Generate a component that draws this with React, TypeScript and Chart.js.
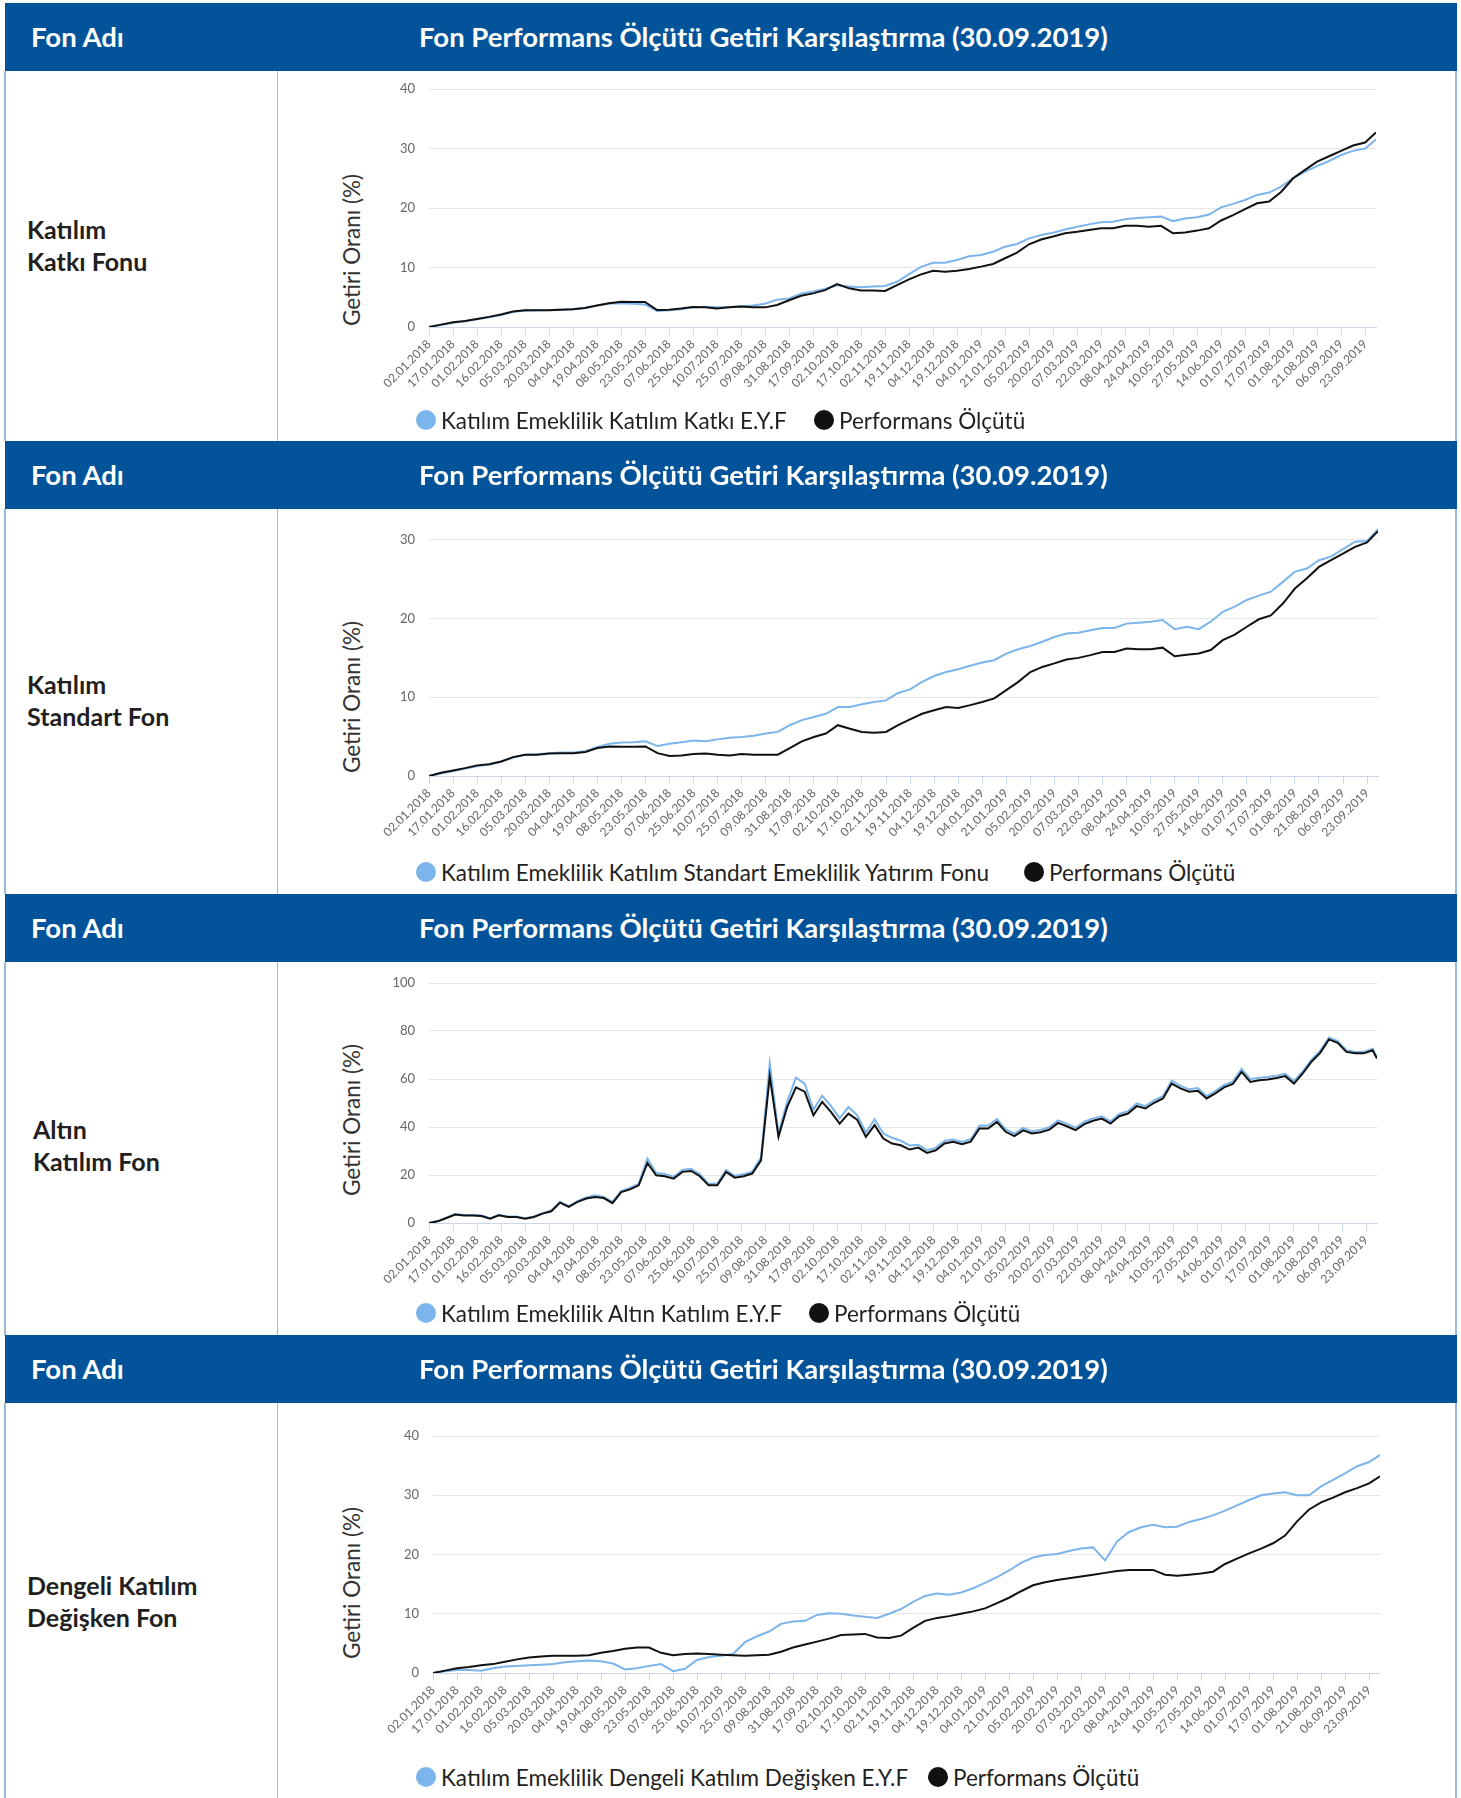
import React, { useEffect, useRef } from 'react';
import { Chart, registerables } from 'chart.js';

Chart.register(...registerables);

// ---------- shared axis data ----------
const tickLabels = [
  '02.01.2018', '17.01.2018', '01.02.2018', '16.02.2018', '05.03.2018', '20.03.2018', '04.04.2018', '19.04.2018',
  '08.05.2018', '23.05.2018', '07.06.2018', '25.06.2018', '10.07.2018', '25.07.2018', '09.08.2018', '31.08.2018',
  '17.09.2018', '02.10.2018', '17.10.2018', '02.11.2018', '19.11.2018', '04.12.2018', '19.12.2018', '04.01.2019',
  '21.01.2019', '05.02.2019', '20.02.2019', '07.03.2019', '22.03.2019', '08.04.2019', '24.04.2019', '10.05.2019',
  '27.05.2019', '14.06.2019', '01.07.2019', '17.07.2019', '01.08.2019', '21.08.2019', '06.09.2019', '23.09.2019',
];
const TICK_STEP = 11; // business days between two tick labels
const LAST_DAY = 434; // 30.09.2019

// sample days (business-day index) used for charts 1, 2, 4 : every half label step + last day
const halfStepDays = Array.from({ length: 79 }, (_, i) => i * 5.5).concat([LAST_DAY]);
// sample days for the gold chart: every 4 business days + last day
const goldDays = Array.from({ length: 109 }, (_, i) => i * 4).concat([LAST_DAY]);

// ---------- chart 1 : Katılım Katkı ----------
const katkiFund = [
  0, 0.35, 0.7, 0.95, 1.3, 1.65, 2.0, 2.55, 2.75, 2.8,
  2.85, 2.95, 3.0, 3.25, 3.6, 3.95, 4.0, 3.9, 3.8, 2.7,
  2.8, 3.0, 3.3, 3.4, 3.3, 3.3, 3.5, 3.6, 3.9, 4.6,
  4.8, 5.6, 5.95, 6.4, 7.0, 6.8, 6.7, 6.8, 6.9, 7.6,
  8.9, 10.1, 10.8, 10.8, 11.25, 11.9, 12.1, 12.65, 13.5, 13.95,
  14.9, 15.45, 15.85, 16.4, 16.85, 17.25, 17.6, 17.7, 18.1, 18.3,
  18.45, 18.55, 17.8, 18.25, 18.45, 18.9, 20.1, 20.7, 21.35, 22.2,
  22.6, 23.6, 25.0, 26.1, 27.05, 27.9, 28.9, 29.6, 30.0,
  31.5,
];
const katkiBench = [
  0, 0.4, 0.8, 1.0, 1.35, 1.7, 2.1, 2.6, 2.8, 2.8,
  2.8, 2.9, 3.0, 3.2, 3.6, 4.0, 4.25, 4.2, 4.2, 2.85,
  2.9, 3.1, 3.35, 3.3, 3.1, 3.3, 3.45, 3.3, 3.3, 3.7,
  4.5, 5.25, 5.65, 6.2, 7.2, 6.5, 6.15, 6.15, 6.05, 7.05,
  8.0, 8.85, 9.45, 9.3, 9.45, 9.75, 10.15, 10.6, 11.55, 12.5,
  13.9, 14.7, 15.2, 15.75, 16.0, 16.3, 16.6, 16.6, 17.0, 17.0,
  16.85, 17.0, 15.75, 15.9, 16.2, 16.6, 17.9, 18.8, 19.8, 20.8,
  21.1, 22.7, 25.0, 26.4, 27.8, 28.7, 29.6, 30.5, 31.0,
  32.7,
];

// ---------- chart 2 : Katılım Standart ----------
const standartFund = [
  0, 0.3, 0.6, 0.95, 1.25, 1.45, 1.8, 2.35, 2.7, 2.75,
  2.9, 3.0, 3.0, 3.15, 3.7, 4.1, 4.25, 4.3, 4.4, 3.8,
  4.1, 4.3, 4.5, 4.4, 4.65, 4.85, 4.95, 5.1, 5.4, 5.6,
  6.45, 7.1, 7.5, 7.9, 8.75, 8.75, 9.1, 9.4, 9.6, 10.55,
  11.0, 11.95, 12.7, 13.2, 13.55, 14.0, 14.4, 14.7, 15.55, 16.1,
  16.5, 17.05, 17.65, 18.1, 18.2, 18.5, 18.8, 18.8, 19.35, 19.45,
  19.6, 19.8, 18.65, 18.95, 18.65, 19.6, 20.85, 21.5, 22.35, 22.9,
  23.4, 24.65, 25.95, 26.35, 27.4, 27.85, 28.8, 29.75, 29.85,
  31.35,
];
const standartBench = [
  0, 0.4, 0.7, 1.0, 1.35, 1.5, 1.85, 2.4, 2.7, 2.7,
  2.85, 2.9, 2.9, 3.05, 3.55, 3.75, 3.7, 3.7, 3.75, 2.9,
  2.55, 2.6, 2.8, 2.85, 2.7, 2.6, 2.8, 2.7, 2.7, 2.7,
  3.55, 4.4, 4.95, 5.4, 6.45, 6.0, 5.6, 5.5, 5.6, 6.45,
  7.2, 7.9, 8.35, 8.75, 8.65, 9.0, 9.4, 9.85, 10.9, 11.95,
  13.2, 13.85, 14.3, 14.8, 15.0, 15.35, 15.75, 15.75, 16.2, 16.1,
  16.1, 16.3, 15.2, 15.4, 15.55, 16.0, 17.25, 17.95, 18.95, 19.9,
  20.4, 21.9, 23.8, 25.1, 26.55, 27.4, 28.25, 29.1, 29.65,
  31.1,
];

// ---------- chart 3 : Altın Katılım ----------
const altinFund = [
  0, 0.8, 2.2, 3.7, 3.3, 3.3, 3.1, 2.0, 3.4, 2.7,
  2.7, 2.0, 2.7, 4.1, 5.2, 8.9, 7.0, 9.1, 10.6, 11.6,
  10.9, 8.8, 13.4, 14.6, 16.3, 26.8, 20.8, 20.4, 19.3, 22.1,
  22.6, 20.3, 16.4, 16.4, 22.1, 19.7, 20.3, 21.4, 27.4, 66.5,
  37.3, 50.6, 60.6, 58.1, 47.2, 53.0, 48.8, 43.6, 48.3, 45.0,
  37.7, 43.2, 37.3, 35.5, 34.3, 32.3, 32.6, 30.3, 31.3, 34.2,
  34.8, 33.8, 34.9, 40.6, 40.5, 43.3, 39.0, 37.2, 39.6, 38.2,
  38.8, 39.9, 42.8, 41.4, 39.7, 42.2, 43.6, 44.5, 42.3, 45.5,
  46.6, 49.8, 48.7, 51.1, 52.9, 59.3, 57.1, 55.7, 56.2, 52.9,
  55.0, 57.5, 58.9, 64.2, 59.9, 60.5, 60.8, 61.4, 62.2, 59.2,
  63.2, 68.1, 71.8, 77.3, 75.8, 72.0, 71.3, 71.3, 72.6,
  69.0,
];
const altinBench = [
  0, 0.7, 2.1, 3.5, 3.1, 3.1, 2.9, 1.8, 3.2, 2.5,
  2.5, 1.8, 2.5, 3.9, 4.9, 8.5, 6.7, 8.8, 10.2, 10.8,
  10.4, 8.3, 12.9, 14.0, 15.7, 25.0, 19.9, 19.5, 18.5, 21.3,
  21.7, 19.5, 15.7, 15.7, 21.3, 18.9, 19.5, 20.6, 26.1, 61.2,
  35.9, 48.4, 56.5, 54.7, 44.9, 50.5, 46.3, 41.4, 45.6, 43.1,
  35.9, 40.8, 35.2, 33.1, 32.4, 30.6, 31.4, 29.2, 30.3, 33.1,
  33.8, 32.8, 33.9, 39.4, 39.4, 42.1, 38.0, 36.2, 38.6, 37.3,
  37.8, 38.9, 41.7, 40.3, 38.7, 41.2, 42.6, 43.5, 41.4, 44.5,
  45.6, 48.7, 47.7, 50.1, 51.9, 58.1, 56.1, 54.7, 55.1, 51.9,
  54.0, 56.5, 57.9, 63.0, 58.8, 59.5, 59.8, 60.4, 61.2, 58.1,
  62.3, 67.2, 70.9, 76.5, 75.1, 71.3, 70.7, 70.7, 72.0,
  68.5,
];

// ---------- chart 4 : Dengeli Katılım Değişken ----------
const dengeliFund = [
  0, 0.3, 0.5, 0.5, 0.4, 0.8, 1.1, 1.2, 1.3, 1.4,
  1.5, 1.8, 2.0, 2.1, 2.0, 1.6, 0.6, 0.8, 1.2, 1.5,
  0.3, 0.7, 2.2, 2.7, 2.9, 3.2, 5.2, 6.2, 7.0, 8.3,
  8.7, 8.8, 9.8, 10.1, 10.0, 9.7, 9.5, 9.3, 10.0, 10.8,
  12.0, 13.0, 13.4, 13.2, 13.6, 14.3, 15.2, 16.2, 17.3, 18.6,
  19.5, 19.9, 20.1, 20.6, 21.0, 21.2, 19.0, 22.2, 23.8, 24.6,
  25.0, 24.6, 24.7, 25.5, 26.0, 26.6, 27.4, 28.3, 29.2, 30.0,
  30.3, 30.5, 30.0, 30.0, 31.5, 32.6, 33.7, 34.9, 35.6,
  36.8,
];
const dengeliBench = [
  0, 0.4, 0.8, 1.0, 1.3, 1.5, 1.9, 2.3, 2.6, 2.8,
  2.9, 2.9, 2.9, 3.0, 3.4, 3.7, 4.1, 4.3, 4.3, 3.4,
  3.0, 3.2, 3.3, 3.2, 3.1, 3.0, 2.9, 3.0, 3.1, 3.6,
  4.3, 4.8, 5.3, 5.8, 6.4, 6.5, 6.6, 6.0, 5.9, 6.3,
  7.6, 8.8, 9.3, 9.6, 10.0, 10.4, 10.9, 11.8, 12.7, 13.8,
  14.8, 15.3, 15.7, 16.0, 16.3, 16.6, 16.9, 17.2, 17.4, 17.4,
  17.4, 16.6, 16.4, 16.6, 16.8, 17.1, 18.4, 19.3, 20.2, 21.0,
  21.9, 23.2, 25.6, 27.6, 28.8, 29.6, 30.5, 31.2, 32.0,
  33.2,
];

const yTicks40 = [0, 10, 20, 30, 40];
const yTicks30 = [0, 10, 20, 30];
const yTicks100 = [0, 20, 40, 60, 80, 100];

const headerTitle = 'Fon Performans Ölçütü Getiri Karşılaştırma (30.09.2019)';
const headerLeft = 'Fon Adı';
const yTitle = 'Getiri Oranı (%)';
const benchName = 'Performans Ölçütü';

const FONT = 'Lato, "Open Sans", sans-serif';
const BLUE_HEAD = '#02539a';
const BORDER = '#9bb8dd';
const FUND_COLOR = '#7cb5ec';
const BENCH_COLOR = '#111111';

type Geo = { left: number; top: number; right: number; bottom: number };

const Y_AXIS_W = 60;
const PAD_TOP = 14;
const PAD_RIGHT = 16;
const X_AXIS_H = 82;

function LineChart(props: {
  geo: Geo; days: number[]; fund: number[]; bench: number[]; yMax: number; yTicks: number[];
  fundName: string;
}) {
  const ref = useRef<HTMLCanvasElement | null>(null);
  const { geo, days, fund, bench, yMax, yTicks, fundName } = props;
  const width = geo.right - geo.left + Y_AXIS_W + PAD_RIGHT;
  const height = geo.bottom - geo.top + PAD_TOP + X_AXIS_H;
  useEffect(() => {
    if (!ref.current) return;
    const chart = new Chart(ref.current, {
      type: 'line',
      data: {
        datasets: [
          {
            label: benchName,
            data: days.map((d, i) => ({ x: d, y: bench[i] })),
            borderColor: BENCH_COLOR,
            backgroundColor: BENCH_COLOR,
            borderWidth: 2,
            pointRadius: 0,
            tension: 0,
            order: 0,
          },
          {
            label: fundName,
            data: days.map((d, i) => ({ x: d, y: fund[i] })),
            borderColor: FUND_COLOR,
            backgroundColor: FUND_COLOR,
            borderWidth: 2,
            pointRadius: 0,
            tension: 0,
            order: 1,
          },
        ],
      },
      options: {
        responsive: false,
        animation: false,
        devicePixelRatio: 1,
        layout: { padding: { top: PAD_TOP, right: PAD_RIGHT, left: 0, bottom: 0 }, autoPadding: false },
        plugins: { legend: { display: false }, tooltip: { enabled: false }, title: { display: false } },
        scales: {
          x: {
            type: 'linear',
            min: 0,
            max: LAST_DAY,
            afterBuildTicks: (s: any) => {
              s.ticks = tickLabels.map((_, i) => ({ value: i * TICK_STEP }));
            },
            afterFit: (s: any) => {
              s.height = X_AXIS_H;
            },
            grid: { drawOnChartArea: false, drawTicks: true, tickLength: 8, color: '#ccd6eb' },
            border: { display: true, color: '#ccd6eb', width: 1 },
            ticks: {
              autoSkip: false,
              maxRotation: 45,
              minRotation: 45,
              color: '#666666',
              padding: 2,
              font: { size: 12, family: FONT },
              callback: (v: any) => tickLabels[Math.round(Number(v) / TICK_STEP)],
            },
          },
          y: {
            min: 0,
            max: yMax,
            afterBuildTicks: (s: any) => {
              s.ticks = yTicks.map((v) => ({ value: v }));
            },
            afterFit: (s: any) => {
              s.width = Y_AXIS_W;
              s.paddingTop = 0;
              s.paddingBottom = 0;
            },
            grid: { color: '#e6e6e6', drawTicks: false },
            border: { display: false },
            ticks: { color: '#666666', padding: 14, font: { size: 13, family: FONT } },
          },
        },
      },
    });
    return () => chart.destroy();
  }, []);
  return (
    <canvas
      ref={ref}
      width={width}
      height={height}
      style={{
        position: 'absolute',
        left: geo.left - Y_AXIS_W,
        top: geo.top - PAD_TOP,
        width,
        height,
      }}
    />
  );
}

type Section = {
  headerTop: number;
  bodyTop: number;
  bodyBottom: number;
  nameLines: string[];
  nameLeft: number;
  nameTop: number;
  geo: Geo;
  days: number[];
  fund: number[];
  bench: number[];
  yMax: number;
  yTicks: number[];
  fundName: string;
  yTitleCenter: number;
  legendY: number;
  legend2X: number;
};

const sections: Section[] = [
  {
    headerTop: 3, bodyTop: 71, bodyBottom: 441,
    nameLines: ['Katılım', 'Katkı Fonu'], nameLeft: 27, nameTop: 213,
    geo: { left: 429, top: 89, right: 1376, bottom: 327 },
    days: halfStepDays, fund: katkiFund, bench: katkiBench, yMax: 40, yTicks: yTicks40,
    fundName: 'Katılım Emeklilik Katılım Katkı E.Y.F',
    yTitleCenter: 250, legendY: 420, legend2X: 814,
  },
  {
    headerTop: 441, bodyTop: 509, bodyBottom: 894,
    nameLines: ['Katılım', 'Standart Fon'], nameLeft: 27, nameTop: 668,
    geo: { left: 429, top: 524, right: 1378, bottom: 776 },
    days: halfStepDays, fund: standartFund, bench: standartBench, yMax: 32, yTicks: yTicks30,
    fundName: 'Katılım Emeklilik Katılım Standart Emeklilik Yatırım Fonu',
    yTitleCenter: 697, legendY: 872, legend2X: 1024,
  },
  {
    headerTop: 894, bodyTop: 962, bodyBottom: 1335,
    nameLines: ['Altın', 'Katılım Fon'], nameLeft: 33, nameTop: 1113,
    geo: { left: 429, top: 983, right: 1377, bottom: 1223 },
    days: goldDays, fund: altinFund, bench: altinBench, yMax: 100, yTicks: yTicks100,
    fundName: 'Katılım Emeklilik Altın Katılım E.Y.F',
    yTitleCenter: 1120, legendY: 1313, legend2X: 809,
  },
  {
    headerTop: 1335, bodyTop: 1403, bodyBottom: 1798,
    nameLines: ['Dengeli Katılım', 'Değişken Fon'], nameLeft: 27, nameTop: 1569,
    geo: { left: 433, top: 1436, right: 1380, bottom: 1673 },
    days: halfStepDays, fund: dengeliFund, bench: dengeliBench, yMax: 40, yTicks: yTicks40,
    fundName: 'Katılım Emeklilik Dengeli Katılım Değişken E.Y.F',
    yTitleCenter: 1583, legendY: 1777, legend2X: 928,
  },
];

function LegendItem(props: { x: number; y: number; color: string; text: string }) {
  return (
    <div
      style={{
        position: 'absolute', left: props.x, top: props.y - 13, height: 26,
        display: 'flex', alignItems: 'center', whiteSpace: 'nowrap',
      }}
    >
      <div style={{ width: 20, height: 20, borderRadius: '50%', background: props.color, marginRight: 5 }} />
      <span style={{ fontFamily: FONT, fontSize: 22.5, color: '#231f20' }}>{props.text}</span>
    </div>
  );
}

export default function App() {
  return (
    <div
      style={{
        position: 'absolute', left: 0, top: 0, width: 1461, height: 1798,
        background: '#ffffff', overflow: 'hidden', fontFamily: FONT,
      }}
    >
      {sections.map((s, i) => (
        <React.Fragment key={i}>
          <div
            style={{
              position: 'absolute', left: 5, top: s.headerTop, width: 1452, height: 68, background: BLUE_HEAD,
            }}
          >
            <div style={{ position: 'absolute', left: 26, top: 0, height: 68, lineHeight: '68px', color: '#fff', fontWeight: 700, fontSize: 27.5 }}>
              {headerLeft}
            </div>
            <div style={{ position: 'absolute', left: 414, top: 0, height: 68, lineHeight: '68px', color: '#fff', fontWeight: 700, fontSize: 27.5, whiteSpace: 'nowrap' }}>
              {headerTitle}
            </div>
          </div>
          <div style={{ position: 'absolute', left: 4, top: s.bodyTop, width: 2, height: s.bodyBottom - s.bodyTop, background: BORDER }} />
          <div style={{ position: 'absolute', left: 277, top: s.bodyTop, width: 1, height: s.bodyBottom - s.bodyTop, background: BORDER }} />
          <div style={{ position: 'absolute', left: 1455, top: s.bodyTop, width: 2, height: s.bodyBottom - s.bodyTop, background: BORDER }} />
          <div
            style={{
              position: 'absolute', left: s.nameLeft, top: s.nameTop, lineHeight: '32px', fontSize: 25,
              fontWeight: 700, color: '#231f20', whiteSpace: 'nowrap',
            }}
          >
            {s.nameLines.map((l, j) => (<div key={j}>{l}</div>))}
          </div>
          <div
            style={{
              position: 'absolute', left: 351, top: s.yTitleCenter, transform: 'translate(-50%, -50%) rotate(-90deg)',
              fontSize: 22.5, color: '#333333', whiteSpace: 'nowrap',
            }}
          >
            {yTitle}
          </div>
          <LineChart
            geo={s.geo} days={s.days} fund={s.fund} bench={s.bench} yMax={s.yMax} yTicks={s.yTicks}
            fundName={s.fundName}
          />
          <LegendItem x={416} y={s.legendY} color={FUND_COLOR} text={s.fundName} />
          <LegendItem x={s.legend2X} y={s.legendY} color={BENCH_COLOR} text={benchName} />
        </React.Fragment>
      ))}
    </div>
  );
}
